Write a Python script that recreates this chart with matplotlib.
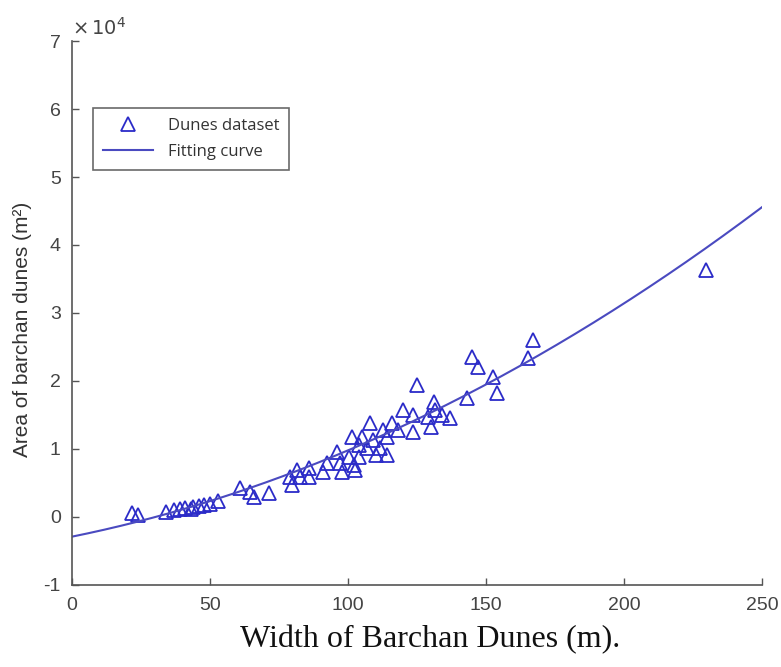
import numpy as np
import matplotlib
matplotlib.use("Agg")
import matplotlib.pyplot as plt

# Data (width in m, area in m^2)
width = [21.7, 24, 34, 37, 39, 41, 43, 44, 46, 48, 50, 53, 61, 64.5, 66, 71.5,
         79.7, 79, 81.5, 82.5, 86, 86, 91, 92.5, 96, 97, 98, 100.5, 101.5, 102,
         102.5, 104, 104, 105, 107, 108, 109, 110, 111.5, 112.5, 114, 114, 116,
         118, 120, 123.5, 123.5, 125, 129, 130, 131, 131.5, 134, 137, 143, 145,
         147, 152.5, 154, 165, 167, 229.7]
area = [600, 300, 800, 1000, 1100, 1300, 1200, 1500, 1600, 1700, 1900, 2400,
        4300, 3600, 3000, 3500,
        4700, 5900, 6900, 5900, 5900, 7200, 6600, 7900, 9600, 7900, 6600, 8800,
        11800, 7600, 6900, 8800, 10600, 11800, 10100, 13800, 11300, 9100, 10100,
        12800, 9100, 11800, 13800, 12800, 15700, 12500, 15000, 19400, 14700,
        13200, 16900, 15700, 15000, 14600, 17500, 23500, 22100, 20600, 18300,
        23400, 26000, 36300]

# Fitted quadratic coefficients
fit_a, fit_b, fit_c = 0.4467, 82.3, -2900.0

xticks = [0, 50, 100, 150, 200, 250]
yticks = [-1, 0, 1, 2, 3, 4, 5, 6, 7]

fig = plt.figure(figsize=(7.81, 6.67), dpi=100)
ax = fig.add_axes([0.092, 0.123, 0.884, 0.8155])

xs = np.linspace(0, 250, 300)
ys = fit_a * xs**2 + fit_b * xs + fit_c

ax.plot(np.array(width), np.array(area) / 1e4, linestyle='none', marker='^',
        markersize=9.5, markerfacecolor='none', markeredgecolor='#2b2bc8',
        markeredgewidth=1.3, label='Dunes dataset')
ax.plot(xs, ys / 1e4, color='#4a4ac0', linewidth=1.5, label='Fitting curve')

ax.set_xlim(0, 250)
ax.set_ylim(-1, 7)
ax.set_xticks(xticks)
ax.set_yticks(yticks)
ax.set_yticklabels([str(t) for t in yticks])
for s in ['top', 'right']:
    ax.spines[s].set_visible(False)
for s in ['left', 'bottom']:
    ax.spines[s].set_color('#555555')
    ax.spines[s].set_linewidth(1.2)
ax.tick_params(direction='in', length=5, width=1, colors='#555555',
               labelcolor='#444444', labelsize=14)
ax.tick_params(axis='x', pad=9)
ax.tick_params(axis='y', pad=8)
for lab in ax.get_xticklabels() + ax.get_yticklabels():
    lab.set_family('Liberation Sans')

ax.text(0.0, 1.005, r'$\times\,10^{4}$', transform=ax.transAxes, ha='left',
        va='bottom', fontsize=14, color='#444444', family='Liberation Sans')

ax.set_ylabel('Area of barchan dunes (m²)', fontsize=15, color='#333333',
              family='Liberation Sans')
ax.yaxis.set_label_coords(-0.058, 0.47)
ax.set_xlabel('Width of Barchan Dunes (m).', fontsize=23, color='#111111',
              family='Liberation Serif')
ax.xaxis.set_label_coords(0.519, -0.073)
ax.xaxis.label.set_va('top')

leg = ax.legend(loc='upper left', bbox_to_anchor=(0.030, 0.877),
                borderaxespad=0.0,
                frameon=True, fancybox=False, edgecolor='#444444',
                handlelength=3.0, borderpad=0.6, labelspacing=0.6,
                handletextpad=0.9,
                prop={'family': 'Open Sans', 'size': 12})
leg.get_frame().set_linewidth(1.2)
for t in leg.get_texts():
    t.set_color('#333333')

fig.savefig('out.png', dpi=100)
